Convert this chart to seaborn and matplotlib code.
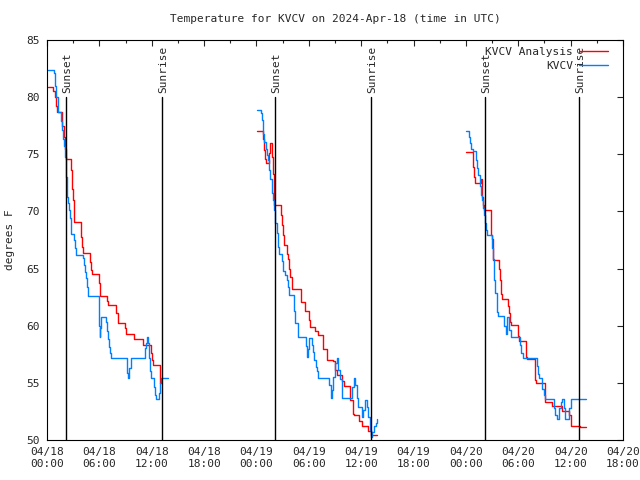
import matplotlib
matplotlib.use("Agg")
import matplotlib.pyplot as plt
import numpy as np
import pandas as pd
import seaborn as sns

# hours since 04/18 00:00 UTC, temperatures in deg F
an_t1 = [0.15, 0.72, 0.9, 1.05, 1.1, 1.75, 1.9, 2.05, 2.2, 2.8, 2.9, 3.0, 3.1, 3.15, 3.85, 3.95, 4.05, 4.15,
         4.9, 5.05, 5.15, 5.95, 6.1, 6.85, 7.0, 7.95, 8.1, 8.95, 9.1, 10.0, 11.0, 11.9, 12.0, 12.1, 12.9, 13.0, 13.1]
an_v1 = [80.9, 80.5, 80.0, 79.2, 78.7, 77.5, 76.5, 75.5, 74.6, 73.6, 72.0, 71.0, 70.0, 69.1, 68.5, 67.8, 66.9, 66.4,
         65.6, 64.9, 64.5, 63.7, 62.6, 62.2, 61.8, 61.1, 60.2, 59.8, 59.3, 58.8, 58.3, 57.6, 57.0, 56.6, 55.7, 55.0, 55.0]
an_t2 = [24.1, 24.72, 24.87, 24.98, 25.1, 25.17, 25.47, 25.59, 25.78, 25.86, 25.98, 26.05, 26.13, 26.85, 26.93,
         27.08, 27.16, 27.47, 27.58, 27.76, 27.88, 28.04, 28.8, 29.07, 29.56, 30.06, 30.14, 30.71, 31.09, 31.66,
         32.05, 32.74, 33.0, 33.2, 33.77, 34.07, 34.72, 35.03, 35.18, 35.79, 36.06, 36.82, 37.09, 37.78]
an_v2 = [77.0, 76.3, 75.4, 74.6, 74.2, 74.2, 75.1, 76.0, 74.8, 73.3, 71.9, 70.6, 70.6, 69.7, 68.8,
         67.9, 67.1, 66.3, 65.8, 65.0, 64.3, 63.2, 63.2, 62.1, 61.3, 60.5, 59.9, 59.5, 59.2, 58.0,
         57.0, 56.9, 56.1, 55.7, 55.2, 54.7, 53.5, 52.3, 52.2, 51.7, 51.2, 50.8, 50.4, 50.4]
an_t3 = [48.01, 48.78, 48.85, 48.96, 49.08, 49.73, 49.81, 49.88, 49.99, 50.11, 50.84, 50.91, 50.96, 51.14, 51.83,
         51.91, 51.99, 52.1, 52.86, 52.97, 53.05, 53.13, 53.97, 54.09, 54.92, 55.0, 55.95, 56.03, 57.06, 57.14,
         57.86, 58.98, 59.85, 60.04, 61.07, 61.73]
an_v3 = [75.2, 74.8, 73.9, 73.0, 72.5, 72.8, 72.2, 71.3, 70.6, 70.1, 69.2, 67.9, 67.6, 65.75, 65.0,
         64.0, 62.8, 62.3, 61.7, 61.1, 60.35, 60.1, 59.1, 58.7, 57.3, 57.1, 55.25, 55.0, 53.35, 53.3,
         53.0, 52.5, 52.2, 51.25, 51.15, 51.15]

ob_t1 = [0.1, 0.85, 0.95, 1.05, 1.3, 1.55, 1.67, 1.78, 1.94, 2.05, 2.13, 2.17, 2.26, 2.38, 2.5, 2.62, 2.72, 2.76,
         3.13, 3.25, 3.36, 4.16, 4.27, 4.38, 4.5, 4.62, 4.75, 5.95, 6.0, 6.05, 6.12, 6.2, 6.8, 6.9, 7.0, 7.12,
         7.25, 7.37, 9.2, 9.32, 9.45, 9.6, 11.2, 11.3, 11.45, 11.55, 11.7, 11.8, 11.88, 12.23, 12.35, 12.46,
         12.87, 12.95, 13.05, 13.83]
ob_v1 = [82.4, 82.1, 81.0, 80.0, 78.7, 77.9, 77.1, 76.3, 75.7, 74.8, 74.2, 73.0, 71.3, 70.7, 70.1, 69.4, 68.6, 68.0,
         67.5, 66.8, 66.2, 65.9, 65.3, 64.7, 64.2, 63.4, 62.6, 61.6, 60.0, 59.0, 59.8, 60.8, 60.3, 59.5, 58.8, 58.1,
         57.6, 57.2, 55.9, 55.4, 56.3, 57.2, 58.05, 58.5, 59.0, 58.5, 57.2, 56.0, 55.4, 54.6, 53.9, 53.6,
         54.1, 55.0, 55.4, 55.4]
ob_t2 = [24.1, 24.49, 24.6, 24.72, 24.79, 24.9, 25.06, 25.17, 25.29, 25.44, 25.55, 25.75, 25.86, 26.05, 26.13,
         26.32, 26.44, 26.58, 26.96, 27.08, 27.27, 27.47, 27.65, 27.76, 28.27, 28.45, 28.73, 29.64, 29.76, 29.87,
         30.02, 30.4, 30.51, 30.63, 30.79, 30.9, 31.09, 32.35, 32.51, 32.62, 32.81, 33.0, 33.2, 33.31, 33.38,
         33.57, 33.77, 34.95, 35.18, 35.29, 35.49, 35.67, 36.06, 36.24, 36.44, 36.63, 36.82, 37.01, 37.13,
         37.27, 37.5, 37.66, 37.78]
ob_v2 = [78.9, 78.6, 78.0, 77.4, 76.8, 76.1, 75.5, 74.9, 74.5, 73.6, 72.8, 71.6, 71.0, 70.1, 69.0,
         68.1, 66.9, 66.3, 65.7, 64.8, 64.4, 64.0, 63.4, 62.7, 61.3, 60.2, 59.0, 58.2, 57.3, 58.0,
         58.9, 58.3, 57.7, 57.0, 56.4, 56.0, 55.4, 54.8, 53.65, 54.4, 55.5, 56.7, 57.2, 56.7, 56.1,
         55.3, 53.65, 54.6, 55.4, 54.8, 53.65, 52.9, 52.0, 52.6, 53.5, 52.9, 52.0, 50.9, 50.3,
         50.7, 51.2, 51.5, 51.8]
ob_t3 = [48.01, 48.39, 48.5, 48.6, 48.78, 49.12, 49.25, 49.42, 49.62, 49.69, 49.76, 49.88, 49.99, 50.07, 50.19,
         50.31, 50.45, 50.96, 51.07, 51.2, 51.33, 51.6, 51.71, 52.4, 52.6, 52.75, 52.97, 53.2, 53.32, 53.43,
         54.2, 54.35, 54.51, 56.11, 56.25, 56.41, 56.72, 56.9, 57.1, 58.09, 58.25, 58.4, 58.7, 58.85, 59.01,
         59.2, 59.39, 59.78, 60.04, 61.73]
ob_v3 = [77.0, 76.5, 76.0, 75.5, 75.3, 74.5, 73.8, 73.2, 72.2, 71.7, 71.4, 71.0, 70.3, 69.7, 69.0,
         68.4, 67.9, 66.8, 65.8, 64.0, 62.9, 61.2, 60.85, 60.0, 59.3, 60.8, 59.6, 59.0, 59.0, 59.0,
         58.3, 57.6, 57.2, 56.5, 55.8, 55.4, 54.5, 53.9, 53.6, 52.8, 52.2, 51.8, 52.8, 53.3, 53.6,
         52.8, 51.8, 52.8, 53.6, 53.6]

sunset_t = [2.2, 26.16, 50.22]
sunrise_t = [13.21, 37.16, 61.0]

tick_hours = [0, 6, 12, 18, 24, 30, 36, 42, 48, 54, 60, 66]
tick_labels = ["04/18\n00:00", "04/18\n06:00", "04/18\n12:00", "04/18\n18:00",
               "04/19\n00:00", "04/19\n06:00", "04/19\n12:00", "04/19\n18:00",
               "04/20\n00:00", "04/20\n06:00", "04/20\n12:00", "04/20\n18:00"]


def frame(name, segments):
    parts = []
    for seg, (t, v) in enumerate(segments):
        parts.append(pd.DataFrame({"t": t, "temp": v, "seg": seg, "series": name}))
    return pd.concat(parts, ignore_index=True)


df = pd.concat([
    frame("KVCV Analysis", [(an_t1, an_v1), (an_t2, an_v2), (an_t3, an_v3)]),
    frame("KVCV", [(ob_t1, ob_v1), (ob_t2, ob_v2), (ob_t3, ob_v3)]),
], ignore_index=True)

sns.set_style("white")
plt.rcParams["font.family"] = ["DejaVu Sans Mono", "DejaVu Sans"]
plt.rcParams["font.size"] = 7

fig = plt.figure(figsize=(6.4, 4.8), dpi=100)
ax = fig.add_axes([47 / 640, 40 / 480, 576 / 640, 400 / 480])

palette = {"KVCV Analysis": "#ff0000", "KVCV": "#0080ff"}
sns.lineplot(data=df, x="t", y="temp", hue="series", units="seg", estimator=None,
             palette=palette, drawstyle="steps-post", linewidth=1.0, ax=ax)

for t in sunset_t:
    ax.plot([t, t], [50, 80], color="black", linewidth=1.0)
    ax.text(t + 0.15, 80.4, "Sunset", rotation=90, ha="center", va="bottom", fontsize=8)
for t in sunrise_t:
    ax.plot([t, t], [50, 80], color="black", linewidth=1.0)
    ax.text(t + 0.15, 80.4, "Sunrise", rotation=90, ha="center", va="bottom", fontsize=8)

ax.set_xlim(0, 66)
ax.set_ylim(50, 85)
ax.set_xticks(tick_hours)
ax.set_xticklabels(tick_labels)
ax.set_xticks(np.arange(3, 66, 6), minor=True)
ax.set_yticks(np.arange(50, 86, 5))
ax.tick_params(axis="both", which="major", direction="in", length=4, width=0.8,
               top=True, right=True, labelsize=8, pad=5)
ax.tick_params(axis="x", which="minor", direction="in", length=2, width=0.8, top=True)
for spine in ax.spines.values():
    spine.set_linewidth(0.8)
    spine.set_color("black")

ax.set_xlabel("")
ax.set_ylabel("degrees F", fontsize=8, labelpad=8)
ax.set_title("Temperature for KVCV on 2024-Apr-18 (time in UTC)", fontsize=8, pad=13)

handles, labels = ax.get_legend_handles_labels()
ax.legend(handles, labels, loc="upper right", bbox_to_anchor=(0.985, 1.0), frameon=False,
          markerfirst=False, fontsize=8, handlelength=2.6, handletextpad=0.5,
          borderaxespad=0.2, labelspacing=0.35)

fig.savefig("out.png", dpi=100)
